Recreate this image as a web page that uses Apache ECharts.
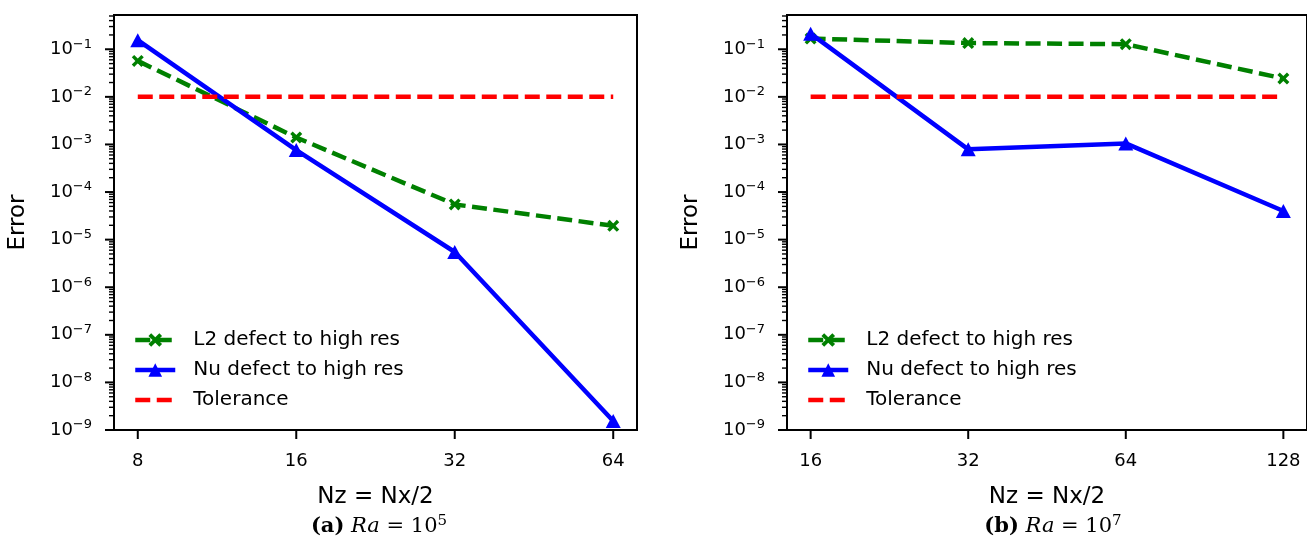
<!DOCTYPE html>
<html>
<head>
<meta charset="utf-8">
<script src="https://cdn.jsdelivr.net/npm/echarts@6/dist/echarts.min.js"></script>
<style>
  html, body { margin: 0; padding: 0; background: #fff; }
  #main { width: 1307px; height: 539px; }
</style>
</head>
<body>
<div id="main"></div>
<script>
// resolutions (Nz)
var resA = [8, 16, 32, 64];
var resB = [16, 32, 64, 128];
// Ra = 1e5
var l2A = [0.057, 1.4e-3, 5.5e-5, 1.95e-5];
var nuA = [0.155, 7.6e-4, 5.5e-6, 1.55e-9];
// Ra = 1e7
var l2B = [0.168, 0.135, 0.128, 0.0243];
var nuB = [0.213, 7.9e-4, 1.05e-3, 4.0e-5];
var tolerance = 1e-2;
// axis ticks
var yMajor = [1e-9, 1e-8, 1e-7, 1e-6, 1e-5, 1e-4, 1e-3, 1e-2, 1e-1];
var yMinorSubs = [2, 3, 4, 5, 6, 7, 8, 9];

var yMin = 1e-9, yMax = Math.pow(10, -0.28);
var names = ['L2 defect to high res', 'Nu defect to high res', 'Tolerance'];
var font = 'DejaVu Sans';

var yMinor = [];
yMajor.forEach(function (d) {
  yMinorSubs.forEach(function (k) {
    var v = d * k;
    if (v < yMax) yMinor.push(v);
  });
});

var myChart = echarts.init(document.getElementById('main'));

function pair(xs, ys) {
  return xs.map(function (x, i) { return [x, ys[i]]; });
}

var xSymbol = 'path://M0,2 L2,0 L5,3 L8,0 L10,2 L7,5 L10,8 L8,10 L5,7 L2,10 L0,8 L3,5 Z';

function panel(idx, res) {
  var lo = Math.log2(res[0]) - 0.15, hi = Math.log2(res[res.length - 1]) + 0.15;
  var xMin = Math.pow(2, lo), xMax = Math.pow(2, hi);
  var xAxis = {
    type: 'log', logBase: 2, gridIndex: idx, min: xMin, max: xMax,
    axisLine: { lineStyle: { color: '#000', width: 2 } },
    axisTick: { show: false },
    splitLine: { show: false },
    axisLabel: { show: false },
    name: 'Nz = Nx/2', nameLocation: 'middle', nameGap: 56,
    nameTextStyle: { color: '#000', fontFamily: font, fontSize: 23 }
  };
  var yAxis = {
    type: 'log', logBase: 10, gridIndex: idx, min: yMin, max: yMax,
    interval: 1, splitNumber: 9,
    axisLine: { lineStyle: { color: '#000', width: 2 } },
    axisTick: { show: false },
    splitLine: { show: false },
    axisLabel: {
      margin: 22, color: '#000', fontFamily: font, fontSize: 18,
      showMaxLabel: false,
      formatter: function (v) {
        var e = Math.round(Math.log10(v));
        return '{b|10}{s|' + (e < 0 ? '\u2212' : '') + Math.abs(e) + '}';
      },
      rich: {
        b: { fontSize: 18, fontFamily: font, color: '#000', lineHeight: 18 },
        s: { fontSize: 13, fontFamily: font, color: '#000', lineHeight: 13, padding: [0, 0, 10, 0] }
      }
    },
    name: 'Error', nameLocation: 'middle', nameGap: 84,
    nameTextStyle: { color: '#000', fontFamily: font, fontSize: 23 }
  };
  var yTickData = yMajor.map(function (v) { return [xMin, v, 1]; })
    .concat(yMinor.map(function (v) { return [xMin, v, 0]; }));
  var xTickData = res.map(function (v) { return [v, yMin]; });
  var series = [
    {
      name: names[0], type: 'line', xAxisIndex: idx, yAxisIndex: idx,
      data: pair(res, idx === 0 ? l2A : l2B),
      symbol: xSymbol, symbolSize: 12,
      itemStyle: { color: '#008000' },
      lineStyle: { color: '#008000', width: 4.5, type: [15, 6.5] },
      z: 3
    },
    {
      name: names[1], type: 'line', xAxisIndex: idx, yAxisIndex: idx,
      data: pair(res, idx === 0 ? nuA : nuB),
      symbol: 'triangle', symbolSize: [15, 14],
      itemStyle: { color: '#0000ff' },
      lineStyle: { color: '#0000ff', width: 4.5 },
      z: 4
    },
    {
      name: names[2], type: 'line', xAxisIndex: idx, yAxisIndex: idx,
      data: [[res[0], tolerance], [res[res.length - 1], tolerance]],
      symbol: 'none',
      itemStyle: { color: '#ff0000' },
      lineStyle: { color: '#ff0000', width: 4.5, type: [15, 6.5] },
      z: 5
    },
    {
      type: 'custom', xAxisIndex: idx, yAxisIndex: idx, silent: true,
      data: yTickData,
      renderItem: function (params, api) {
        var p = api.coord([api.value(0), api.value(1)]);
        var major = api.value(2) === 1;
        var len = major ? 9 : 5;
        return {
          type: 'line',
          shape: { x1: p[0] - len, y1: p[1], x2: p[0], y2: p[1] },
          style: { stroke: '#000', lineWidth: major ? 2 : 1.4 }
        };
      }
    },
    {
      type: 'custom', xAxisIndex: idx, yAxisIndex: idx, silent: true,
      data: xTickData,
      renderItem: function (params, api) {
        var v = api.value(0);
        var p = api.coord([v, api.value(1)]);
        return {
          type: 'group',
          children: [
            {
              type: 'line',
              shape: { x1: p[0], y1: p[1], x2: p[0], y2: p[1] + 9 },
              style: { stroke: '#000', lineWidth: 2 }
            },
            {
              type: 'text', x: p[0], y: p[1] + 31,
              style: {
                text: String(Math.round(v)), fill: '#000',
                fontFamily: font, fontSize: 18,
                align: 'center', verticalAlign: 'middle'
              }
            }
          ]
        };
      }
    }
  ];
  return { xAxis: xAxis, yAxis: yAxis, series: series };
}

var pA = panel(0, resA);
var pB = panel(1, resB);

var legendBase = {
  orient: 'vertical', top: 330, padding: 0,
  itemWidth: 40, itemHeight: 17, itemGap: 10,
  lineStyle: { width: 4.5 },
  data: [names[0], names[1], { name: names[2], itemStyle: { opacity: 0 } }],
  textStyle: { fontFamily: font, fontSize: 20, color: '#000', lineHeight: 20, padding: [0, 0, 0, 13] }
};

var captionRich = {
  p: { fontFamily: 'DejaVu Serif', fontSize: 21, fontWeight: 'bold', color: '#000' },
  i: { fontFamily: 'DejaVu Serif', fontSize: 21, fontStyle: 'italic', color: '#000' },
  n: { fontFamily: 'DejaVu Serif', fontSize: 21, color: '#000' },
  s: { fontFamily: 'DejaVu Serif', fontSize: 15, color: '#000', padding: [0, 0, 12, 0] }
};

myChart.setOption({
  animation: false,
  grid: [
    { left: 114, top: 15, width: 523, height: 415, show: true, borderColor: '#000', borderWidth: 2 },
    { left: 787, top: 15, width: 524, height: 415, show: true, borderColor: '#000', borderWidth: 2 }
  ],
  xAxis: [pA.xAxis, pB.xAxis],
  yAxis: [pA.yAxis, pB.yAxis],
  legend: [
    Object.assign({ left: 133 }, legendBase),
    Object.assign({ left: 806 }, legendBase)
  ],
  graphic: [
    {
      type: 'text', x: 379, y: 527,
      style: { text: '{p|(a)}{n| }{i|Ra}{n| = 10}{s|5}', rich: captionRich, align: 'center', verticalAlign: 'middle' }
    },
    {
      type: 'text', x: 1053, y: 527,
      style: { text: '{p|(b)}{n| }{i|Ra}{n| = 10}{s|7}', rich: captionRich, align: 'center', verticalAlign: 'middle' }
    }
  ],
  series: pA.series.concat(pB.series)
});
</script>
</body>
</html>
